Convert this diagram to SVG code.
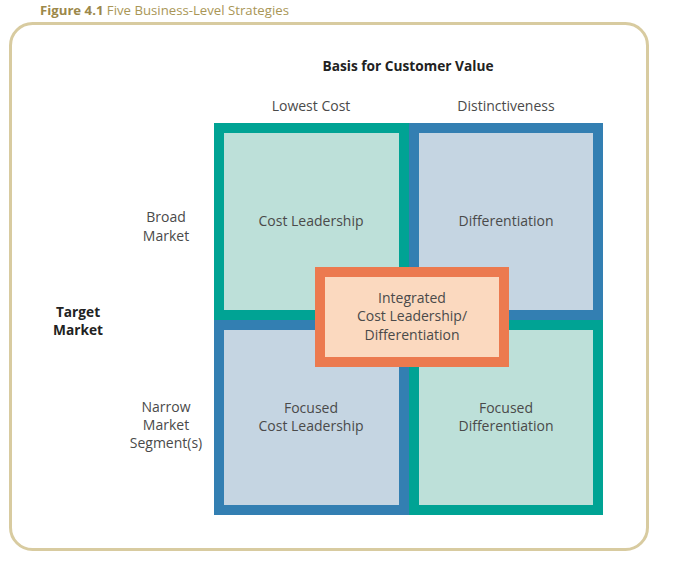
<svg xmlns="http://www.w3.org/2000/svg" width="682" height="564" viewBox="0 0 682 564">
<style>
text{font-family:"Open Sans","Liberation Sans",sans-serif;font-size:14px;fill:#4a4a4a;text-anchor:middle;font-variant-ligatures:none}
.b{font-weight:bold;fill:#222;font-size:13.7px}
.teal{fill:#bde0d9;stroke:#00a394;stroke-width:10}
.blue{fill:#c5d5e2;stroke:#337fb2;stroke-width:10}
.org{fill:#fbd9bf;stroke:#ec7a4f;stroke-width:10}
.cap{font-size:13.2px;text-anchor:start;fill:#a99656}
</style>
<rect width="682" height="564" fill="#fff"/>
<text class="cap" x="40" y="15"><tspan font-weight="bold" fill="#9c884a">Figure 4.1</tspan>  Five Business-Level Strategies</text>
<rect x="10.5" y="23.5" width="637" height="526" rx="22" fill="#fff" stroke="#d8cba0" stroke-width="3"/>
<g id="labels">
<text class="b" x="408" y="71">Basis for Customer Value</text>
<text x="311" y="111">Lowest Cost</text>
<text x="506" y="111">Distinctiveness</text>
<text x="166" y="222">Broad</text>
<text x="166" y="241">Market</text>
<text class="b" x="78" y="317">Target</text>
<text class="b" x="78" y="335">Market</text>
<text x="166" y="412">Narrow</text>
<text x="166" y="430">Market</text>
<text x="166" y="448">Segment(s)</text>
</g>
<g id="cost-leadership"><rect class="teal" x="219" y="128" width="185" height="187"/><text x="311" y="226">Cost Leadership</text></g>
<g id="differentiation"><rect class="blue" x="414" y="128" width="184" height="187"/><text x="506" y="226">Differentiation</text></g>
<g id="focused-cost-leadership"><rect class="blue" x="219" y="325" width="185" height="185"/><text x="311" y="413">Focused</text><text x="311" y="431">Cost Leadership</text></g>
<g id="focused-differentiation"><rect class="teal" x="414" y="325" width="184" height="185"/><text x="506" y="413">Focused</text><text x="506" y="431">Differentiation</text></g>
<g id="integrated"><rect class="org" x="320" y="272" width="184" height="90"/><text x="412" y="303">Integrated</text><text x="412" y="321">Cost Leadership/</text><text x="412" y="340">Differentiation</text></g>
<g id="connectors"/>
</svg>
